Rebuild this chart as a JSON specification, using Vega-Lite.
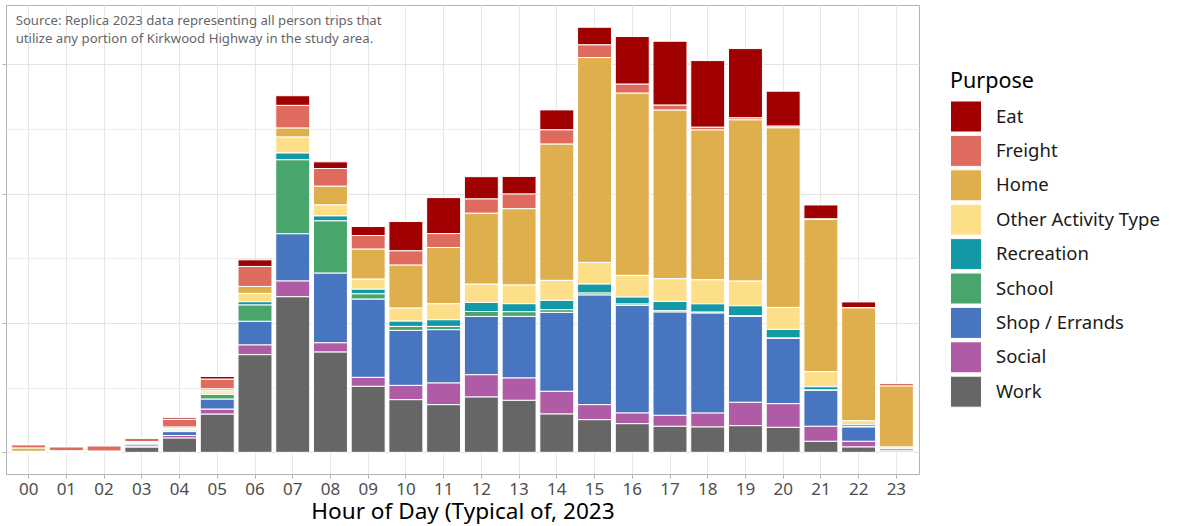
{
  "$schema": "https://vega.github.io/schema/vega-lite/v6.json",
  "width": 913,
  "height": 469,
  "autosize": "none",
  "padding": {"left": 6, "top": 5, "right": 259, "bottom": 52},
  "config": {
    "font": "Noto Sans",
    "view": {"stroke": "#b3b3b3", "strokeWidth": 1}
  },
  "layer": [
    {
      "data": {
        "values": [
          {"hour": "00", "Eat": 0, "Freight": 50, "Home": 50, "Other Activity Type": 5, "Recreation": 0, "School": 0, "Shop / Errands": 3, "Social": 2, "Work": 5},
          {"hour": "01", "Eat": 0, "Freight": 60, "Home": 15, "Other Activity Type": 2, "Recreation": 0, "School": 0, "Shop / Errands": 2, "Social": 1, "Work": 3},
          {"hour": "02", "Eat": 0, "Freight": 80, "Home": 10, "Other Activity Type": 2, "Recreation": 0, "School": 0, "Shop / Errands": 2, "Social": 1, "Work": 3},
          {"hour": "03", "Eat": 5, "Freight": 50, "Home": 15, "Other Activity Type": 10, "Recreation": 5, "School": 10, "Shop / Errands": 30, "Social": 15, "Work": 80},
          {"hour": "04", "Eat": 25, "Freight": 120, "Home": 20, "Other Activity Type": 20, "Recreation": 10, "School": 20, "Shop / Errands": 60, "Social": 40, "Work": 220},
          {"hour": "05", "Eat": 42, "Freight": 150, "Home": 31, "Other Activity Type": 36, "Recreation": 20, "School": 72, "Shop / Errands": 155, "Social": 77, "Work": 590},
          {"hour": "06", "Eat": 103, "Freight": 309, "Home": 108, "Other Activity Type": 128, "Recreation": 51, "School": 252, "Shop / Errands": 366, "Social": 150, "Work": 1510},
          {"hour": "07", "Eat": 150, "Freight": 351, "Home": 139, "Other Activity Type": 247, "Recreation": 104, "School": 1144, "Shop / Errands": 731, "Social": 243, "Work": 2406},
          {"hour": "08", "Eat": 103, "Freight": 274, "Home": 289, "Other Activity Type": 170, "Recreation": 77, "School": 808, "Shop / Errands": 1077, "Social": 144, "Work": 1550},
          {"hour": "09", "Eat": 139, "Freight": 211, "Home": 464, "Other Activity Type": 155, "Recreation": 72, "School": 82, "Shop / Errands": 1210, "Social": 139, "Work": 1020},
          {"hour": "10", "Eat": 453, "Freight": 221, "Home": 665, "Other Activity Type": 201, "Recreation": 82, "School": 62, "Shop / Errands": 850, "Social": 221, "Work": 814},
          {"hour": "11", "Eat": 556, "Freight": 216, "Home": 870, "Other Activity Type": 247, "Recreation": 103, "School": 51, "Shop / Errands": 824, "Social": 335, "Work": 737},
          {"hour": "12", "Eat": 345, "Freight": 221, "Home": 1097, "Other Activity Type": 283, "Recreation": 139, "School": 77, "Shop / Errands": 901, "Social": 345, "Work": 855},
          {"hour": "13", "Eat": 273, "Freight": 227, "Home": 1180, "Other Activity Type": 289, "Recreation": 124, "School": 72, "Shop / Errands": 953, "Social": 345, "Work": 804},
          {"hour": "14", "Eat": 309, "Freight": 221, "Home": 2107, "Other Activity Type": 309, "Recreation": 144, "School": 42, "Shop / Errands": 1221, "Social": 351, "Work": 592},
          {"hour": "15", "Eat": 273, "Freight": 196, "Home": 3168, "Other Activity Type": 335, "Recreation": 139, "School": 31, "Shop / Errands": 1695, "Social": 232, "Work": 505},
          {"hour": "16", "Eat": 737, "Freight": 139, "Home": 2818, "Other Activity Type": 335, "Recreation": 108, "School": 21, "Shop / Errands": 1664, "Social": 165, "Work": 443},
          {"hour": "17", "Eat": 989, "Freight": 77, "Home": 2607, "Other Activity Type": 351, "Recreation": 144, "School": 21, "Shop / Errands": 1597, "Social": 170, "Work": 402},
          {"hour": "18", "Eat": 1031, "Freight": 42, "Home": 2318, "Other Activity Type": 371, "Recreation": 128, "School": 15, "Shop / Errands": 1546, "Social": 216, "Work": 391},
          {"hour": "19", "Eat": 1072, "Freight": 31, "Home": 2493, "Other Activity Type": 381, "Recreation": 155, "School": 10, "Shop / Errands": 1329, "Social": 361, "Work": 412},
          {"hour": "20", "Eat": 541, "Freight": 26, "Home": 2777, "Other Activity Type": 340, "Recreation": 134, "School": 5, "Shop / Errands": 1010, "Social": 366, "Work": 386},
          {"hour": "21", "Eat": 216, "Freight": 10, "Home": 2354, "Other Activity Type": 232, "Recreation": 51, "School": 5, "Shop / Errands": 556, "Social": 232, "Work": 170},
          {"hour": "22", "Eat": 88, "Freight": 5, "Home": 1746, "Other Activity Type": 62, "Recreation": 31, "School": 3, "Shop / Errands": 221, "Social": 88, "Work": 82},
          {"hour": "23", "Eat": 3, "Freight": 41, "Home": 943, "Other Activity Type": 20, "Recreation": 5, "School": 0, "Shop / Errands": 26, "Social": 26, "Work": 5}
        ]
      },
      "transform": [
        {"fold": ["Eat", "Freight", "Home", "Other Activity Type", "Recreation", "School", "Shop / Errands", "Social", "Work"], "as": ["Purpose", "Trips"]}
      ],
      "mark": {"type": "bar", "stroke": "white", "strokeWidth": 1},
      "encoding": {
        "x": {
          "field": "hour",
          "type": "nominal",
          "scale": {"paddingInner": 0.1, "paddingOuter": 0.15},
          "axis": {
            "title": "Hour of Day (Typical of, 2023",
            "titleFontSize": 22.6,
            "titleFontWeight": "normal",
            "titleColor": "black",
            "titlePadding": 3,
            "labelFontSize": 17,
            "labelColor": "#4d4d4d",
            "labelAngle": 0,
            "labelPadding": 3,
            "tickColor": "#b3b3b3",
            "tickSize": 4,
            "domain": false,
            "grid": true,
            "gridColor": "#e6e6e6",
            "bandPosition": 0.5
          }
        },
        "y": {
          "field": "Trips",
          "type": "quantitative",
          "stack": "zero",
          "scale": {"domain": [-335, 6918], "nice": false, "zero": false},
          "axis": {
            "title": null,
            "labels": false,
            "domain": false,
            "values": [0, 1000, 2000, 3000, 4000, 5000, 6000],
            "tickSize": 4,
            "tickColor": {"condition": {"test": "datum.value % 2000 === 0", "value": "#b3b3b3"}, "value": "transparent"},
            "grid": true,
            "gridColor": {"condition": {"test": "datum.value % 2000 === 0", "value": "#e3e3e3"}, "value": "#eeeeee"}
          }
        },
        "color": {
          "field": "Purpose",
          "type": "nominal",
          "scale": {
            "domain": ["Eat", "Freight", "Home", "Other Activity Type", "Recreation", "School", "Shop / Errands", "Social", "Work"],
            "range": ["#a00000", "#de6b5e", "#e0af4d", "#fedf89", "#1399a6", "#48a56b", "#4775c0", "#b05ba5", "#666666"]
          },
          "legend": {
            "title": "Purpose",
            "orient": "none",
            "legendX": 944,
            "legendY": 66,
            "titleFontSize": 21.5,
            "titleFontWeight": "normal",
            "titleColor": "black",
            "titlePadding": 8,
            "labelFontSize": 18.5,
            "labelColor": "#1a1a1a",
            "labelLimit": 300,
            "symbolType": "square",
            "symbolSize": 961,
            "symbolStrokeColor": "white",
            "symbolStrokeWidth": 1,
            "symbolOpacity": 1,
            "rowPadding": -1.6,
            "labelOffset": 14
          }
        },
        "order": {"field": "Purpose", "sort": "descending"}
      }
    },
    {
      "data": {"values": [{}]},
      "mark": {
        "type": "text",
        "align": "left",
        "baseline": "alphabetic",
        "dx": -13,
        "fontSize": 13.2,
        "lineHeight": 17.7,
        "color": "#666666"
      },
      "encoding": {
        "x": {"datum": "00"},
        "y": {"datum": 6609},
        "text": {"value": ["Source: Replica 2023 data representing all person trips that", "utilize any portion of Kirkwood Highway in the study area."]}
      }
    }
  ]
}
